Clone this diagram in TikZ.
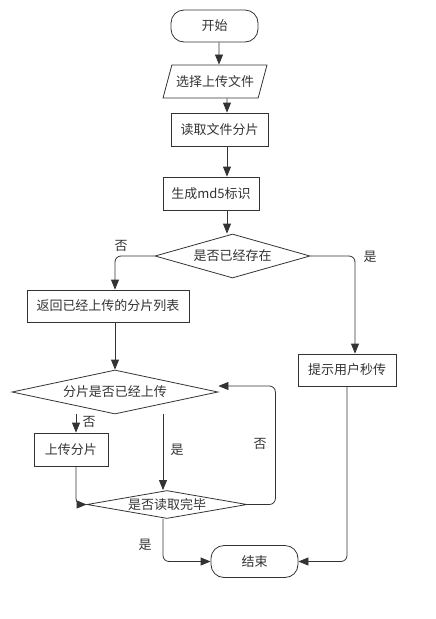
\documentclass[tikz,border=0pt]{standalone}
\usepackage{fontspec}
\setmainfont{Noto Sans CJK SC}
\usetikzlibrary{arrows.meta,shapes.geometric}

\begin{document}
\begin{tikzpicture}[
  every node/.style={font=\fontsize{13}{15}\selectfont, text=black!80},
  box/.style={draw=black!80, line width=0.8pt, rectangle, minimum height=33pt, inner sep=0pt},
  term/.style={box, rounded corners=13pt, minimum width=87pt, minimum height=32pt},
  io/.style={draw=black!80, line width=0.8pt, trapezium, trapezium left angle=75, trapezium right angle=105, trapezium stretches body, minimum width=104pt, inner xsep=0pt, inner ysep=10.5pt},
  ask/.style={draw=black!80, line width=0.8pt, diamond, aspect=4, inner sep=0pt},
  go/.style={draw=black!80, line width=0.8pt, rounded corners=6pt, -{Triangle[length=10pt,width=8pt]}}
]
\useasboundingbox (0pt,0pt) rectangle (436pt,-619pt);
\node[term] (1) at (214.5pt,-26pt) {开始};
\node[io] (2) at (215pt,-81.5pt) {选择上传文件};
\node[box, minimum width=97pt] (3) at (219.5pt,-129.5pt) {读取文件分片};
\node[box, minimum width=96pt] (4) at (211pt,-193.5pt) {生成md5标识};
\node[ask, minimum width=155pt, minimum height=44pt] (5) at (232.5pt,-256pt) {是否已经存在};
\node[box, minimum width=162pt, minimum height=32pt] (6) at (108pt,-306pt) {返回已经上传的分片列表};
\node[box, minimum width=98pt, minimum height=32pt] (7) at (347pt,-370pt) {提示用户秒传};
\node[ask, minimum width=206pt, minimum height=44pt] (8) at (115pt,-392pt) {分片是否已经上传};
\node[box, minimum width=74pt, minimum height=33pt] (9) at (71pt,-449.5pt) {上传分片};
\node[ask, aspect=6, minimum width=160pt, minimum height=28pt] (10) at (167pt,-504.5pt) {是否读取完毕};
\node[term] (11) at (254.5pt,-561.5pt) {结束};
\node (n1) at (121pt,-246pt) {否};
\node (y1) at (370pt,-257pt) {是};
\node (n2) at (89pt,-422pt) {否};
\node (y2) at (177pt,-450pt) {是};
\node (n3) at (260pt,-444pt) {否};
\node (y3) at (145pt,-545pt) {是};
\draw[go] ([xshift=4.5pt]1.south) -- ([xshift=4pt]2.north);
\draw[go] ([xshift=12pt]2.south) -- ([xshift=7.5pt]3.north);
\draw[go] ([xshift=7.5pt]3.south) -- ([xshift=16pt]4.north);
\draw[go] ([xshift=16pt]4.south) -- ([xshift=-5.5pt]5.north);
\draw[go] (5.west) -| ([xshift=7pt]6.north);
\draw[go] (5.east) -| ([xshift=8pt]7.north);
\draw[go] ([xshift=7pt]6.south) -- (8.north);
\draw[go] ([xshift=5pt]9.north |- 8.south) -- ([xshift=5pt]9.north);
\draw[go] ([xshift=-4pt]10.north |- 8.south) -- ([xshift=-4pt]10.north);
\draw[go] ([xshift=5pt]9.south) |- (10.west);
\draw[go] (10.east) -- ++(28pt,0pt) |- ([yshift=6pt]8.east);
\draw[go] ([xshift=-4pt]10.south) |- (11.west);
\draw[go] (7.south) |- (11.east);
\end{tikzpicture}
\end{document}
